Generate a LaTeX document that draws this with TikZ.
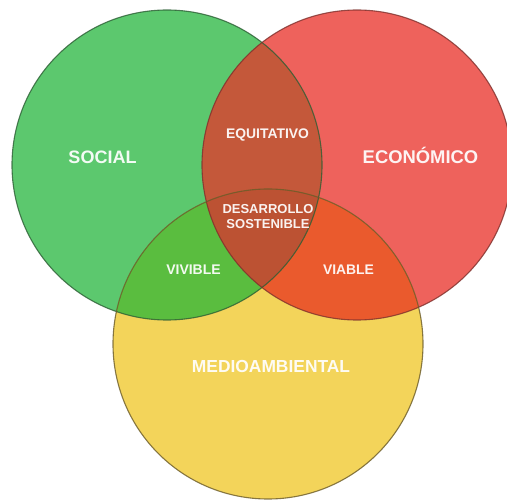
\documentclass[tikz,border=0pt]{standalone}
\usepackage{fontspec}
\setmainfont{Liberation Sans}
\begin{document}
\begin{tikzpicture}[x=1pt,y=-1pt,
  lbl/.style={text=white, text opacity=0.93, font=\bfseries, inner sep=0pt,
              text height=0.716em, text depth=0pt, align=center},
  ring/.style={line width=1.1pt, draw opacity=0.8}]
  % palette
  \definecolor{socialC}{HTML}{5CC86E}
  \definecolor{ecoC}{HTML}{EE625C}
  \definecolor{envC}{HTML}{F3D45A}
  \definecolor{gyC}{HTML}{5ABD3F}
  \definecolor{ryC}{HTML}{EA5A2D}
  \definecolor{grC}{HTML}{C4583A}
  \definecolor{allC}{HTML}{BC5233}
  \definecolor{socialLine}{HTML}{2C5E34}
  \definecolor{ecoLine}{HTML}{7E302C}
  \definecolor{envLine}{HTML}{6A5A28}

  \clip (0,0) rectangle (507,500);
  \fill[white] (0,0) rectangle (507,500);

  \coordinate (G) at (167,165);
  \coordinate (R) at (357,165);
  \coordinate (Y) at (268,344);
  \def\rad{155}

  % base circles
  \fill[socialC] (G) circle[radius=\rad];
  \fill[ecoC] (R) circle[radius=\rad];
  \fill[envC] (Y) circle[radius=\rad];

  % pairwise overlaps
  \begin{scope}
    \clip (G) circle[radius=\rad];
    \fill[grC] (R) circle[radius=\rad];
    \fill[gyC] (Y) circle[radius=\rad];
  \end{scope}
  \begin{scope}
    \clip (R) circle[radius=\rad];
    \fill[ryC] (Y) circle[radius=\rad];
  \end{scope}
  % common core
  \begin{scope}
    \clip (G) circle[radius=\rad];
    \clip (R) circle[radius=\rad];
    \fill[allC] (Y) circle[radius=\rad];
  \end{scope}

  % outlines
  \draw[ring, socialLine] (G) circle[radius=\rad];
  \draw[ring, ecoLine] (R) circle[radius=\rad];
  \draw[ring, envLine] (Y) circle[radius=\rad];

  % labels
  \node[lbl, font=\bfseries\fontsize{18}{20}\selectfont] (social) at (102.5,160) {SOCIAL};
  \node[lbl, font=\bfseries\fontsize{18.4}{20}\selectfont] (eco) at (420.5,160) {ECONÓMICO};
  \node[lbl, font=\bfseries\fontsize{17.4}{20}\selectfont] (env) at (271,368.5) {MEDIOAMBIENTAL};
  \node[lbl, font=\bfseries\fontsize{13.9}{16}\selectfont] (equi) at (267.5,135) {EQUITATIVO};
  \node[lbl, font=\bfseries\fontsize{13}{15}\selectfont] (des1) at (268,209.5) {DESARROLLO};
  \node[lbl, font=\bfseries\fontsize{13}{15}\selectfont] (des2) at (268,224.5) {SOSTENIBLE};
  \node[lbl, font=\bfseries\fontsize{14}{16}\selectfont] (viv) at (193.5,271) {VIVIBLE};
  \node[lbl, font=\bfseries\fontsize{13.9}{16}\selectfont] (via) at (348.5,271) {VIABLE};
\end{tikzpicture}
\end{document}
